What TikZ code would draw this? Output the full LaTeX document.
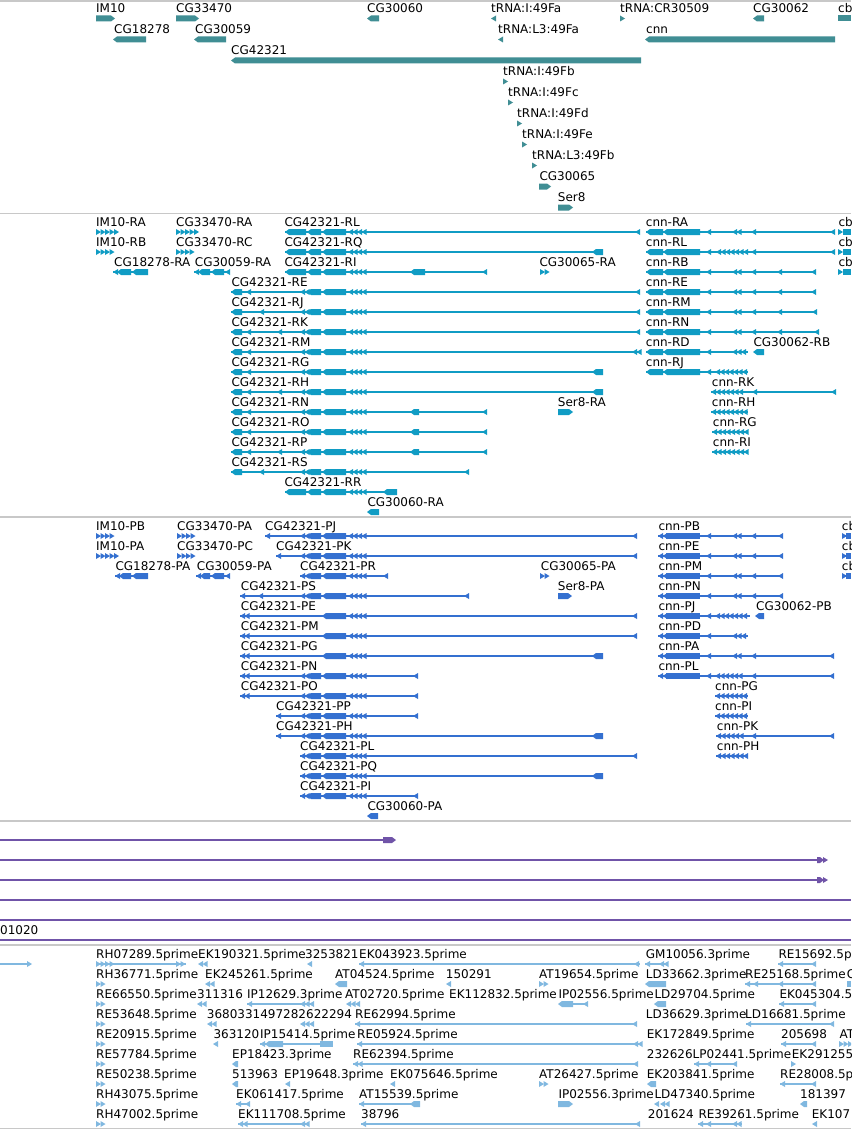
\documentclass[tikz,border=0pt]{standalone}
\usepackage{fontspec}
\newfontfamily\dvs{DejaVu Sans}
\definecolor{gcol}{RGB}{64,142,148}
\definecolor{tcol}{RGB}{16,156,196}
\definecolor{pcol}{RGB}{52,112,208}
\definecolor{vcol}{RGB}{112,84,168}
\definecolor{ecol}{RGB}{128,184,224}
\definecolor{sepcol}{RGB}{200,200,200}
\newcommand\gLB[3]{\fill (#1,#3) -- (#1+4,#3-3) -- (#2,#3-3) -- (#2,#3+3) -- (#1+4,#3+3) -- cycle;}
\newcommand\gRB[3]{\fill (#1,#3-3) -- (#2-4,#3-3) -- (#2,#3) -- (#2-4,#3+3) -- (#1,#3+3) -- cycle;}
\newcommand\gRC[3]{\fill (#1,#3-3) rectangle (#2,#3+3);}
\newcommand\gLA[2]{\fill (#1,#2) -- (#1+5,#2-3) -- (#1+5,#2+3) -- cycle;}
\newcommand\gRA[2]{\fill (#1+5,#2) -- (#1,#2-3) -- (#1,#2+3) -- cycle;}
\newcommand\gLAs[3]{\foreach \qq in {1,...,#2}{\gLA{#1+4.5*\qq-4.5}{#3}}}
\newcommand\gRAs[3]{\foreach \qq in {1,...,#2}{\gRA{#1+4.5*\qq-4.5}{#3}}}
\newcommand\gLN[3]{\draw[line width=1.2pt] (#1,#3) -- (#2,#3);}
\newcommand\lab[3]{\node[lbl] at (#1,#2-6) {#3};}
\newcommand\cgA[1]{\gLB{285}{306}{#1}\gLB{307}{321}{#1}\gLB{322}{346}{#1}\gLAs{348}{4}{#1}}
\newcommand\cgB[1]{\gLAs{300}{2}{#1}\gLB{307}{321}{#1}\gLB{322}{346}{#1}\gLAs{348}{4}{#1}}
\newcommand\cgC[1]{\gLB{322}{346}{#1}\gLAs{348}{4}{#1}}
\newcommand\cnnT[1]{\gLB{646}{663}{#1}\gLB{663}{700}{#1}}
\newcommand\cnnP[1]{\gLAs{658}{2}{#1}\gRC{666}{700}{#1}}
\newcommand\cnnPB[1]{\gLN{658}{783}{#1}\cnnP{#1}\gLA{706}{#1}\gLAs{732}{2}{#1}\gLA{751}{#1}\gLA{778}{#1}}
\begin{document}
\begin{tikzpicture}[x=1pt,y=-1pt,
  lbl/.style={anchor=base west,inner sep=0pt,text=black,font=\dvs\fontsize{12}{14}\selectfont}]
\useasboundingbox (0,0) rectangle (851,1129);
\fill[white] (0,0) rectangle (851,1129);
\clip (0,0) rectangle (851,1129);
% separators
\foreach \yy in {1,213.5,517,821,945,1128.3}{\draw[sepcol,line width=1.3pt] (0,\yy) -- (851,\yy);}
% ---------------- track 1: genes
\begin{scope}[color=gcol]
\gRB{96}{115}{18.5} \gRB{176}{199}{18.5} \gLB{367}{379}{18.5} \gLA{491}{18.5} \gRA{620}{18.5} \gLB{753}{764}{18.5} \gRC{838}{851}{18.5}
\gLB{113}{146}{39.5} \gLB{194}{226}{39.5} \gLA{498}{39.5} \gLB{645}{835}{39.5}
\gLB{231}{641}{60.5}
\gRA{503}{81.5} \gRA{508}{102.5} \gRA{517}{123.5} \gRA{522}{144.5} \gRA{532}{165.5}
\gRB{539}{551}{186.5} \gRB{558}{573}{207.5}
\end{scope}
\lab{96}{18.5}{IM10} \lab{176}{18.5}{CG33470} \lab{367}{18.5}{CG30060} \lab{491}{18.5}{tRNA:I:49Fa} \lab{620}{18.5}{tRNA:CR30509} \lab{753}{18.5}{CG30062} \lab{838}{18.5}{cb}
\lab{114}{39.5}{CG18278} \lab{195}{39.5}{CG30059} \lab{498}{39.5}{tRNA:L3:49Fa} \lab{646}{39.5}{cnn}
\lab{231}{60.5}{CG42321}
\lab{503}{81.5}{tRNA:I:49Fb} \lab{508}{102.5}{tRNA:I:49Fc} \lab{517}{123.5}{tRNA:I:49Fd} \lab{522}{144.5}{tRNA:I:49Fe} \lab{532}{165.5}{tRNA:L3:49Fb}
\lab{539.3}{186.5}{CG30065} \lab{557.7}{207.5}{Ser8}
% ---------------- track 2: transcripts
\begin{scope}[color=tcol]
% 232
\gRAs{96}{5}{232} \gRAs{176}{5}{232}
\gLN{285}{640}{232} \cgA{232} \gLA{635}{232}
\gLN{646}{835}{232} \cnnT{232} \gLA{706}{232} \gLAs{732}{2}{232} \gLA{751}{232} \gLA{830}{232}
\gRA{838}{232} \gRC{843}{851}{232}
% 252
\gRAs{96}{4}{252} \gRAs{176}{4}{252}
\gLN{285}{603}{252} \cgA{252} \gLB{592}{603}{252}
\gLN{646}{835}{252} \cnnT{252} \gLA{706}{252} \gLAs{716}{7}{252} \gLA{751}{252} \gLA{830}{252}
\gRA{838}{252} \gRC{843}{851}{252}
% 272
\gLN{113}{148}{272} \gLA{113}{272} \gLB{117}{131}{272} \gLB{132}{148}{272}
\gLN{194}{229}{272} \gLA{194}{272} \gLB{198}{210}{272} \gLB{211}{224}{272} \gLA{225}{272}
\gLN{285}{487}{272} \cgA{272} \gLB{410}{425}{272} \gLA{482}{272}
\gRAs{540}{2}{272}
\gLN{646}{816}{272} \cnnT{272} \gLA{706}{272} \gLAs{732}{2}{272} \gLA{751}{272} \gLA{777}{272} \gLA{811}{272}
\gRA{838}{272} \gRC{843}{851}{272}
% 292
\gLN{231}{640}{292} \gLB{231}{242}{292} \gLA{246}{292} \cgB{292} \gLA{635}{292}
\gLN{646}{816}{292} \cnnT{292} \gLA{706}{292} \gLAs{732}{2}{292} \gLA{751}{292} \gLA{777}{292} \gLA{811}{292}
% 312
\gLN{231}{640}{312} \gLB{231}{242}{312} \gLA{259}{312} \cgB{312} \gLA{635}{312}
\gLN{646}{817}{312} \cnnT{312} \gLA{706}{312} \gLAs{732}{2}{312} \gLA{751}{312} \gLA{777}{312} \gLA{812}{312}
% 332
\gLN{231}{640}{332} \gLB{231}{242}{332} \gLA{246}{332} \gLA{277}{332} \cgB{332} \gLA{635}{332}
\gLN{646}{819}{332} \cnnT{332} \gLA{706}{332} \gLAs{732}{2}{332} \gLA{751}{332} \gLA{777}{332} \gLA{814}{332}
% 352
\gLN{231}{641}{352} \gLB{231}{242}{352} \gLA{246}{352} \cgB{352} \gLAs{632}{2}{352}
\gLN{646}{748}{352} \cnnT{352} \gLA{706}{352} \gLAs{732}{3}{352}
\gLB{753}{764}{352}
% 372
\gLN{231}{603}{372} \gLB{231}{242}{372} \gLA{246}{372} \cgB{372} \gLB{592}{603}{372}
\gLN{646}{748}{372} \cnnT{372} \gLA{706}{372} \gLAs{715}{7}{372}
% 392
\gLN{231}{603}{392} \gLB{231}{242}{392} \gLA{246}{392} \gLA{277}{392} \cgB{392} \gLB{592}{603}{392}
\gLN{711}{836}{392} \gLAs{711}{7}{392} \gLA{752}{392} \gLA{831}{392}
% 412
\gLN{231}{487}{412} \gLB{231}{242}{412} \gLA{246}{412} \cgB{412} \gLB{410}{419}{412} \gLA{482}{412}
\gRB{558}{573}{412}
\gLN{711}{748}{412} \gLAs{711}{8}{412}
% 432
\gLN{231}{487}{432} \gLB{231}{242}{432} \gLA{246}{432} \cgB{432} \gLB{410}{419}{432} \gLA{482}{432}
\gLN{712}{748}{432} \gLAs{712}{8}{432}
% 452
\gLN{231}{487}{452} \gLB{231}{242}{452} \gLA{246}{452} \gLA{277}{452} \cgB{452} \gLB{410}{419}{452} \gLA{482}{452}
\gLN{712}{748}{452} \gLAs{712}{8}{452}
% 472
\gLN{231}{469}{472} \gLB{231}{242}{472} \gLA{259}{472} \cgB{472} \gLA{464}{472}
% 492
\gLN{285}{397}{492} \cgA{492} \gLB{383}{397}{492}
% 512
\gLB{367}{379}{512}
\end{scope}
\lab{96}{232}{IM10-RA} \lab{176}{232}{CG33470-RA} \lab{284.3}{232}{CG42321-RL} \lab{645.7}{232}{cnn-RA} \lab{838.3}{232}{cb}
\lab{96}{252}{IM10-RB} \lab{176}{252}{CG33470-RC} \lab{284.3}{252}{CG42321-RQ} \lab{645.7}{252}{cnn-RL} \lab{838.3}{252}{cb}
\lab{114}{272}{CG18278-RA} \lab{194.7}{272}{CG30059-RA} \lab{284.3}{272}{CG42321-RI} \lab{539.3}{272}{CG30065-RA} \lab{645.7}{272}{cnn-RB} \lab{838.3}{272}{cb}
\lab{231.3}{292}{CG42321-RE} \lab{645.7}{292}{cnn-RE}
\lab{231.3}{312}{CG42321-RJ} \lab{645.7}{312}{cnn-RM}
\lab{231.3}{332}{CG42321-RK} \lab{645.7}{332}{cnn-RN}
\lab{231.3}{352}{CG42321-RM} \lab{645.7}{352}{cnn-RD} \lab{753.3}{352}{CG30062-RB}
\lab{231.3}{372}{CG42321-RG} \lab{645.7}{372}{cnn-RJ}
\lab{231.3}{392}{CG42321-RH} \lab{711.7}{392}{cnn-RK}
\lab{231.3}{412}{CG42321-RN} \lab{557.7}{412}{Ser8-RA} \lab{711.7}{412}{cnn-RH}
\lab{231.3}{432}{CG42321-RO} \lab{712.7}{432}{cnn-RG}
\lab{231.3}{452}{CG42321-RP} \lab{712.7}{452}{cnn-RI}
\lab{231.3}{472}{CG42321-RS}
\lab{284.3}{492}{CG42321-RR}
\lab{367.3}{512}{CG30060-RA}
% ---------------- track 3: proteins
\begin{scope}[color=pcol]
% 536
\gRAs{96}{4}{536} \gRAs{177}{4}{536}
\gLN{265}{637}{536} \gLA{265}{536} \cgB{536} \gLA{632}{536}
\cnnPB{536}
\gRA{842}{536} \gRC{846}{851}{536}
% 556
\gRAs{96}{5}{556} \gRAs{177}{4}{556}
\gLN{276}{637}{556} \gLA{276}{556} \cgB{556} \gLA{632}{556}
\cnnPB{556}
\gRA{842}{556} \gRC{846}{851}{556}
% 576
\gLN{115}{148}{576} \gLA{115}{576} \gLB{119}{131}{576} \gLB{132}{148}{576}
\gLN{196}{229}{576} \gLA{196}{576} \gLB{200}{210}{576} \gLB{211}{224}{576} \gLA{225}{576}
\gLN{300}{388}{576} \cgB{576} \gLA{383}{576}
\gRAs{540}{2}{576}
\cnnPB{576}
\gRA{842}{576} \gRC{846}{851}{576}
% 596
\gLN{240}{469}{596} \gLA{240}{596} \gLA{258}{596} \cgB{596} \gLA{464}{596}
\gRB{558}{572}{596}
\cnnPB{596}
% 616
\gLN{240}{637}{616} \gLAs{240}{2}{616} \cgC{616} \gLA{632}{616}
\gLN{658}{750}{616} \cnnP{616} \gLA{706}{616} \gLAs{715}{7}{616}
\gLB{755}{764}{616}
% 636
\gLN{240}{637}{636} \gLAs{240}{2}{636} \cgC{636} \gLA{632}{636}
\gLN{658}{748}{636} \cnnP{636} \gLA{706}{636} \gLAs{732}{3}{636}
% 656
\gLN{240}{603}{656} \gLAs{240}{2}{656} \cgC{656} \gLB{592}{603}{656}
\gLN{658}{834}{656} \cnnP{656} \gLA{706}{656} \gLAs{732}{2}{656} \gLA{751}{656} \gLA{829}{656}
% 676
\gLN{240}{418}{676} \gLAs{240}{2}{676} \cgB{676} \gLA{413}{676}
\gLN{658}{834}{676} \cnnP{676} \gLA{706}{676} \gLAs{715}{6}{676} \gLA{751}{676} \gLA{829}{676}
% 696
\gLN{240}{418}{696} \gLAs{240}{2}{696} \cgB{696} \gLA{413}{696}
\gLN{715}{748}{696} \gLAs{715}{7}{696}
% 716
\gLN{276}{418}{716} \gLA{276}{716} \cgB{716} \gLA{413}{716}
\gLN{715}{748}{716} \gLAs{715}{7}{716}
% 736
\gLN{276}{603}{736} \gLA{276}{736} \cgB{736} \gLB{592}{603}{736}
\gLN{716}{834}{736} \gLAs{716}{6}{736} \gLA{751}{736} \gLA{829}{736}
% 756
\gLN{300}{637}{756} \cgB{756} \gLA{632}{756}
\gLN{716}{748}{756} \gLAs{716}{7}{756}
% 776
\gLN{300}{603}{776} \cgB{776} \gLB{592}{603}{776}
% 796
\gLN{300}{418}{796} \cgB{796} \gLA{413}{796}
% 816
\gLB{367}{378}{816}
\end{scope}
\lab{96}{536}{IM10-PB} \lab{177}{536}{CG33470-PA} \lab{265}{536}{CG42321-PJ} \lab{658.3}{536}{cnn-PB} \lab{841.7}{536}{cb}
\lab{96}{556}{IM10-PA} \lab{177}{556}{CG33470-PC} \lab{276}{556}{CG42321-PK} \lab{658.3}{556}{cnn-PE} \lab{841.7}{556}{cb}
\lab{115.3}{576}{CG18278-PA} \lab{196.7}{576}{CG30059-PA} \lab{300}{576}{CG42321-PR} \lab{540.7}{576}{CG30065-PA} \lab{658.3}{576}{cnn-PM} \lab{841.7}{576}{cb}
\lab{240.7}{596}{CG42321-PS} \lab{557.7}{596}{Ser8-PA} \lab{658.3}{596}{cnn-PN}
\lab{240.7}{616}{CG42321-PE} \lab{658.3}{616}{cnn-PJ} \lab{756}{616}{CG30062-PB}
\lab{240.7}{636}{CG42321-PM} \lab{658.3}{636}{cnn-PD}
\lab{240.7}{656}{CG42321-PG} \lab{658.3}{656}{cnn-PA}
\lab{240.7}{676}{CG42321-PN} \lab{658.3}{676}{cnn-PL}
\lab{240.7}{696}{CG42321-PO} \lab{715}{696}{cnn-PG}
\lab{276}{716}{CG42321-PP} \lab{715}{716}{cnn-PI}
\lab{276}{736}{CG42321-PH} \lab{716.7}{736}{cnn-PK}
\lab{300}{756}{CG42321-PL} \lab{716.7}{756}{cnn-PH}
\lab{300}{776}{CG42321-PQ}
\lab{300}{796}{CG42321-PI}
\lab{367.3}{816}{CG30060-PA}
% ---------------- purple track
\begin{scope}[color=vcol]
\gLN{0}{385}{840} \gRB{383}{396}{840}
\gLN{0}{818}{860} \gRB{817}{824}{860} \gRA{823}{860}
\gLN{0}{818}{880} \gRB{817}{824}{880} \gRA{823}{880}
\gLN{0}{851}{900} \gLN{0}{851}{920} \gLN{0}{851}{940}
\end{scope}
\lab{0}{940}{01020}
% ---------------- EST track
\begin{scope}[color=ecol]
% 964
\gLN{0}{30}{964} \gRA{27}{964}
\gLN{96}{186}{964} \gRAs{96}{4}{964} \gRAs{176}{2}{964}
\gLAs{198}{2}{964} \gLA{307}{964}
\gLN{359}{640}{964} \gLA{359}{964} \gLA{634}{964}
\gLN{645}{667}{964} \gLA{645}{964} \gLAs{659}{2}{964}
\gLN{778}{816}{964} \gLA{778}{964} \gLA{811}{964}
% 984
\gRAs{96}{2}{984} \gLAs{205}{2}{984} \gLB{335}{347}{984} \gLA{446}{984} \gRAs{539}{2}{984} \gLB{645}{666}{984}
\gLN{745}{816}{984} \gLA{745}{984} \gLA{753}{984} \gLA{778}{984} \gLA{811}{984}
\gRC{847}{851}{984}
% 1004
\gRAs{96}{2}{1004} \gLAs{197}{2}{1004}
\gLN{247}{312}{1004} \gLA{247}{1004} \gLAs{300}{3}{1004}
\gLAs{346}{3}{1004}
\gLB{558}{573}{1004} \gLN{573}{588}{1004} \gLA{583}{1004}
\gLB{654}{666}{1004}
\gLN{779}{816}{1004} \gLA{779}{1004} \gLA{811}{1004}
% 1024
\gRAs{96}{2}{1024} \gLAs{207}{2}{1024} \gLAs{300}{3}{1024}
\gLN{355}{637}{1024} \gLA{355}{1024} \gLA{632}{1024}
\gLN{746}{834}{1024} \gLA{746}{1024} \gLA{829}{1024}
% 1044
\gRAs{96}{2}{1044} \gLA{213}{1044}
\gLN{260}{333}{1044} \gLA{260}{1044} \gLB{265}{283}{1044} \gRC{320}{333}{1044}
\gLN{357}{642}{1044} \gLA{357}{1044} \gLAs{633}{2}{1044}
\gLN{781}{816}{1044} \gLA{781}{1044} \gLA{811}{1044}
\gRAs{839}{3}{1044}
% 1064
\gRAs{96}{2}{1064} \gLB{232}{238}{1064}
\gLN{353}{638}{1064} \gLAs{353}{2}{1064} \gLA{633}{1064}
\gLN{694}{737}{1064} \gLA{694}{1064} \gLA{706}{1064} \gLA{732}{1064}
\gRA{791}{1064}
% 1084
\gRAs{96}{2}{1084} \gLB{232}{238}{1084} \gLA{285}{1084} \gLA{390}{1084} \gRAs{539}{2}{1084} \gLB{647}{656}{1084}
\gLN{780}{816}{1084} \gLA{780}{1084} \gLA{811}{1084}
% 1104
\gRAs{96}{2}{1104}
\gLN{236}{250}{1104} \gLA{236}{1104} \gLA{245}{1104}
\gLN{359}{420}{1104} \gLA{359}{1104} \gLB{410}{420}{1104}
\gRB{558}{573}{1104}
\gLA{654}{1104} \gLAs{660}{2}{1104}
\gLB{800}{807}{1104}
% 1124
\gRAs{96}{2}{1124}
\gLN{238}{307}{1124} \gLAs{238}{2}{1124} \gLAs{300}{2}{1124}
\gLN{361}{640}{1124} \gLA{361}{1124} \gLA{635}{1124}
\gLN{698}{742}{1124} \gLA{698}{1124} \gLA{706}{1124} \gLAs{732}{2}{1124}
\gLA{812}{1124}
\end{scope}
\lab{96}{964}{RH07289.5prime} \lab{198}{964}{EK190321.5prime} \lab{305}{964}{3253821} \lab{359}{964}{EK043923.5prime} \lab{645.7}{964}{GM10056.3prime} \lab{778.3}{964}{RE15692.5prime}
\lab{96}{984}{RH36771.5prime} \lab{205}{984}{EK245261.5prime} \lab{335}{984}{AT04524.5prime} \lab{445.7}{984}{150291} \lab{539}{984}{AT19654.5prime} \lab{645.7}{984}{LD33662.3prime} \lab{745}{984}{RE25168.5prime} \lab{846.7}{984}{C}
\lab{96}{1004}{RE66550.5prime} \lab{197}{1004}{311316} \lab{247}{1004}{IP12629.3prime} \lab{345}{1004}{AT02720.5prime} \lab{449}{1004}{EK112832.5prime} \lab{558.3}{1004}{IP02556.5prime} \lab{654.3}{1004}{LD29704.5prime} \lab{779.3}{1004}{EK045304.5prime}
\lab{96}{1024}{RE53648.5prime} \lab{206.7}{1024}{3680331497282622294} \lab{355}{1024}{RE62994.5prime} \lab{645.7}{1024}{LD36629.3prime} \lab{745}{1024}{LD16681.5prime}
\lab{96}{1044}{RE20915.5prime} \lab{213.3}{1044}{363120} \lab{260}{1044}{IP15414.5prime} \lab{357}{1044}{RE05924.5prime} \lab{646.7}{1044}{EK172849.5prime} \lab{781}{1044}{205698} \lab{839.3}{1044}{AT}
\lab{96}{1064}{RE57784.5prime} \lab{232}{1064}{EP18423.3prime} \lab{353}{1064}{RE62394.5prime} \lab{646.7}{1064}{232626LP02441.5prime} \lab{791.7}{1064}{EK291255}
\lab{96}{1084}{RE50238.5prime} \lab{232}{1084}{513963} \lab{284}{1084}{EP19648.3prime} \lab{390}{1084}{EK075646.5prime} \lab{539}{1084}{AT26427.5prime} \lab{646.7}{1084}{EK203841.5prime} \lab{780}{1084}{RE28008.5prime}
\lab{96}{1104}{RH43075.5prime} \lab{236}{1104}{EK061417.5prime} \lab{359}{1104}{AT15539.5prime} \lab{558.3}{1104}{IP02556.3prime} \lab{654.3}{1104}{LD47340.5prime} \lab{800}{1104}{181397}
\lab{96}{1124}{RH47002.5prime} \lab{238}{1124}{EK111708.5prime} \lab{361}{1124}{38796} \lab{647.7}{1124}{201624} \lab{698.3}{1124}{RE39261.5prime} \lab{811.7}{1124}{EK107}
\end{tikzpicture}
\end{document}
